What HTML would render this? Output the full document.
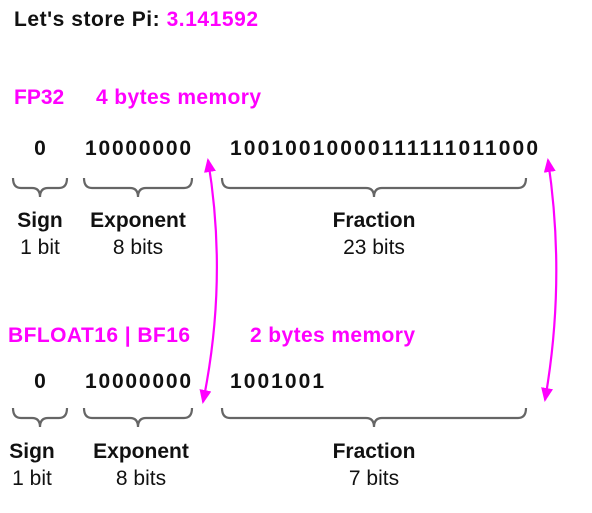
<!DOCTYPE html>
<html><head><meta charset="utf-8"><style>
html,body{margin:0;padding:0;background:#fff;width:592px;height:513px;overflow:hidden}
svg text{font-family:"Liberation Sans",sans-serif}
.b{font-weight:bold;font-size:21px;fill:#111}
.d{font-weight:bold;font-size:21px;fill:#111}
.m{font-weight:bold;font-size:21px;fill:#ff00ff}
.n{font-size:21px;fill:#111}
.br{fill:none;stroke:#666;stroke-width:2.2}
</style></head><body>
<svg width="592" height="513" viewBox="0 0 592 513" xmlns="http://www.w3.org/2000/svg">
<defs><marker id="a" markerWidth="14" markerHeight="12" refX="12" refY="6" orient="auto-start-reverse" markerUnits="userSpaceOnUse" viewBox="0 0 14 12"><path d="M0,0 L14,6 L0,12z" fill="#ff00ff"/></marker></defs>
<text x="14" y="26" class="b" textLength="244">Let's store Pi: <tspan fill="#ff00ff">3.141592</tspan></text>
<text x="14" y="104" class="m">FP32</text>
<text x="96" y="104" class="m" textLength="165">4 bytes memory</text>
<text x="40" y="155" class="d" text-anchor="middle">0</text>
<text x="85" y="155" class="d" textLength="106">10000000</text>
<text x="230" y="155" class="d" textLength="308">10010010000111111011000</text>
<path class="br" d="M13,178 q0,10 8,10 h11 q8,0 8,9 q0,-9 8,-9 h11 q8,0 8,-10"/>
<path class="br" d="M84,178 q0,10 8,10 h38 q8,0 8,9 q0,-9 8,-9 h38 q8,0 8,-10"/>
<path class="br" d="M222,178 q0,10 8,10 h136 q8,0 8,9 q0,-9 8,-9 h136 q8,0 8,-10"/>
<text x="40" y="227" class="b" text-anchor="middle">Sign</text>
<text x="40" y="254" class="n" text-anchor="middle">1 bit</text>
<text x="138" y="227" class="b" text-anchor="middle">Exponent</text>
<text x="138" y="254" class="n" text-anchor="middle">8 bits</text>
<text x="374" y="227" class="b" text-anchor="middle">Fraction</text>
<text x="374" y="254" class="n" text-anchor="middle">23 bits</text>
<text x="8" y="342" class="m" textLength="182">BFLOAT16 | BF16</text>
<text x="250" y="342" class="m" textLength="165">2 bytes memory</text>
<text x="40" y="388" class="d" text-anchor="middle">0</text>
<text x="85" y="388" class="d" textLength="106">10000000</text>
<text x="230" y="388" class="d" textLength="94">1001001</text>
<path class="br" d="M13,408 q0,10 8,10 h11 q8,0 8,9 q0,-9 8,-9 h11 q8,0 8,-10"/>
<path class="br" d="M84,408 q0,10 8,10 h38 q8,0 8,9 q0,-9 8,-9 h38 q8,0 8,-10"/>
<path class="br" d="M222,408 q0,10 8,10 h136 q8,0 8,9 q0,-9 8,-9 h136 q8,0 8,-10"/>
<text x="32" y="458" class="b" text-anchor="middle">Sign</text>
<text x="32" y="485" class="n" text-anchor="middle">1 bit</text>
<text x="141" y="458" class="b" text-anchor="middle">Exponent</text>
<text x="141" y="485" class="n" text-anchor="middle">8 bits</text>
<text x="374" y="458" class="b" text-anchor="middle">Fraction</text>
<text x="374" y="485" class="n" text-anchor="middle">7 bits</text>
<path d="M208,160 Q228,280 203,402" fill="none" stroke="#ff00ff" stroke-width="2.2" marker-start="url(#a)" marker-end="url(#a)"/>
<path d="M548,160 Q566,280 545,400" fill="none" stroke="#ff00ff" stroke-width="2.2" marker-start="url(#a)" marker-end="url(#a)"/>
</svg>
</body></html>
